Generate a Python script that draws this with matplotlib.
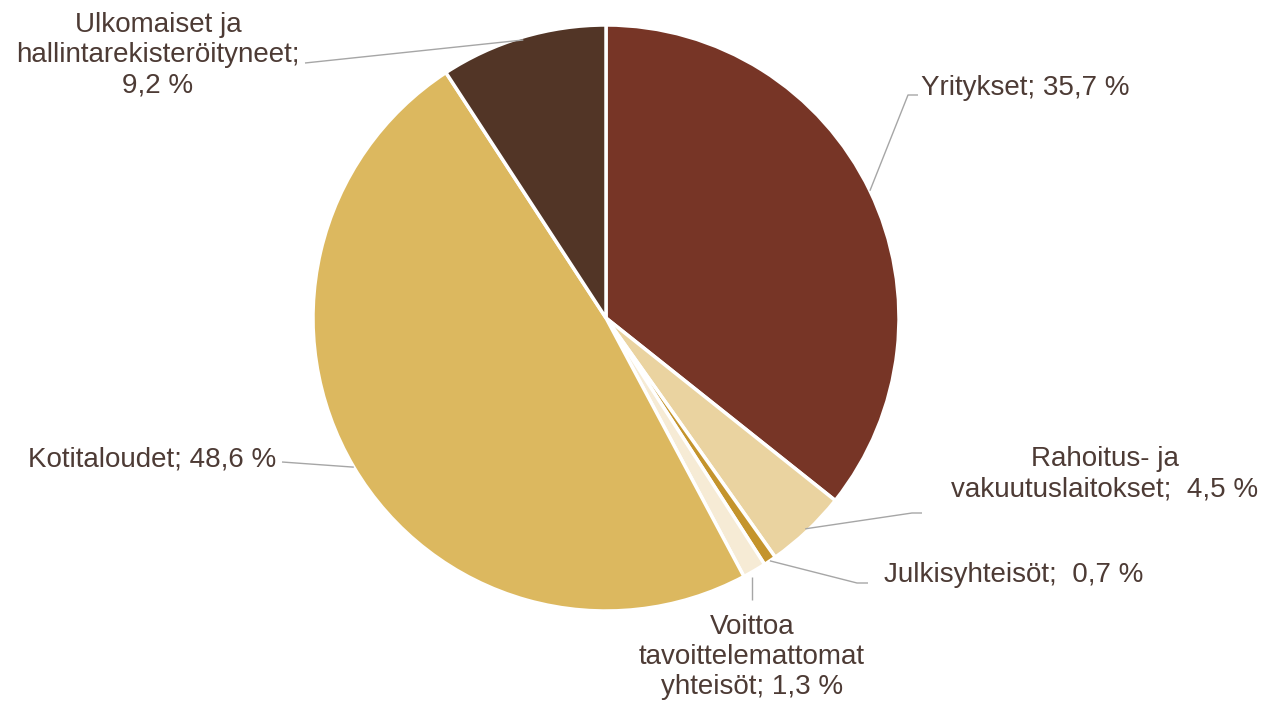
import numpy as np
import matplotlib
matplotlib.use("Agg")
import matplotlib.pyplot as plt

categories = ["Yritykset", "Rahoitus- ja\nvakuutuslaitokset", "Julkisyhteisöt",
              "Voittoa\ntavoittelemattomat\nyhteisöt", "Kotitaloudet",
              "Ulkomaiset ja\nhallintarekisteröityneet"]
values = [35.7, 4.5, 0.7, 1.3, 48.6, 9.2]
value_labels = ["35,7 %", "4,5 %", "0,7 %", "1,3 %", "48,6 %", "9,2 %"]
colors = ["#773526", "#EAD3A0", "#C4942C", "#F6EBD5", "#DCB85F", "#523526"]

W, H = 1278, 704
plt.rcParams['font.family'] = ['Liberation Sans', 'DejaVu Sans']
fig = plt.figure(figsize=(W / 100, H / 100), dpi=100)
ax = fig.add_axes([0, 0, 1, 1])

cx, cy, R = 606, H - 318, 293
wedges, _ = ax.pie(values, colors=colors, startangle=90, counterclock=False,
                   center=(cx, cy), radius=R, frame=True,
                   wedgeprops=dict(edgecolor='white', linewidth=2.5))
ax.set_xlim(0, W)
ax.set_ylim(0, H)
ax.set_aspect('equal')
ax.axis('off')

txt_color = "#4d3b35"
line_color = "#a6a6a6"
fs = 20

layout = [
    dict(xy=(921, 88), ha='left', text="Yritykset; 35,7 %", pts=[(908, 95), (918, 95)], rf=1.0),
    dict(xy=(1105, 474), ha='center', text="Rahoitus- ja\nvakuutuslaitokset;  4,5 %", pts=[(912, 513), (922, 513)], rf=0.99),
    dict(xy=(884, 575), ha='left', text="Julkisyhteisöt;  0,7 %", pts=[(857, 583), (868, 583)], rf=1.0),
    dict(xy=(752, 657), ha='center', text="Voittoa\ntavoittelemattomat\nyhteisöt; 1,3 %", pts=[(752, 600)], start=(752, 577)),
    dict(xy=(276, 460), ha='right', text="Kotitaloudet; 48,6 %", pts=[(282, 462)], rf=1.0),
    dict(xy=(158, 55), ha='center', text="Ulkomaiset ja\nhallintarekisteröityneet;\n9,2 %", pts=[(305, 63)], rf=0.99),
]

for w, lay in zip(wedges, layout):
    if 'start' in lay:
        sx, sy = lay['start'][0], H - lay['start'][1]
    else:
        mid = np.deg2rad((w.theta1 + w.theta2) / 2)
        sx = cx + R * lay['rf'] * np.cos(mid)
        sy = cy + R * lay['rf'] * np.sin(mid)
    xs = [sx] + [p[0] for p in lay['pts']]
    ys = [sy] + [H - p[1] for p in lay['pts']]
    ax.plot(xs, ys, color=line_color, lw=1.0, solid_capstyle='butt')
    ax.text(lay['xy'][0], H - lay['xy'][1], lay['text'], ha=lay['ha'], va='center',
            fontsize=fs, color=txt_color, linespacing=1.2, multialignment='center')

fig.savefig("out.png", dpi=100)
